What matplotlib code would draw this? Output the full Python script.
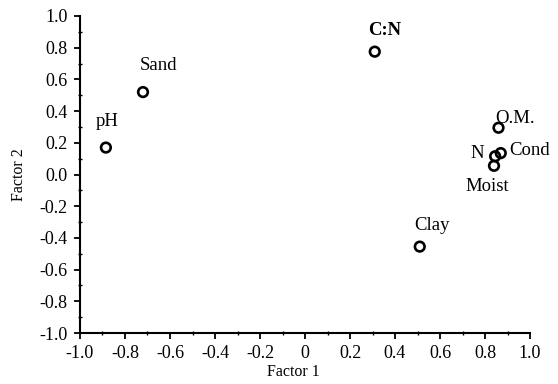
import matplotlib
matplotlib.use("Agg")
import matplotlib.pyplot as plt
from matplotlib.ticker import MultipleLocator

plt.rcParams['font.family'] = ['Liberation Serif', 'DejaVu Serif']

names = ["pH", "Sand", "C:N", "O.M.", "Cond", "N", "Moist", "Clay"]
factor1 = [-0.885, -0.72, 0.31, 0.86, 0.87, 0.845, 0.84, 0.51]
factor2 = [0.17, 0.52, 0.775, 0.295, 0.135, 0.115, 0.055, -0.455]
# label offsets in points (style only)
offsets = {"pH": (1, 19), "Sand": (11, 19), "C:N": (7, 15), "O.M.": (12, 7),
           "Cond": (21, 2), "N": (-13, 2), "Moist": (-5, -15), "Clay": (9, 15)}
bold = {"C:N"}
xticks = [-1.0, -0.8, -0.6, -0.4, -0.2, 0.0, 0.2, 0.4, 0.6, 0.8, 1.0]
xticklabels = ["-1.0", "-0.8", "-0.6", "-0.4", "-0.2", "0", "0.2", "0.4", "0.6", "0.8", "1.0"]
yticks = [-1.0, -0.8, -0.6, -0.4, -0.2, 0.0, 0.2, 0.4, 0.6, 0.8, 1.0]
yticklabels = ["-1.0", "-0.8", "-0.6", "-0.4", "-0.2", "0.0", "0.2", "0.4", "0.6", "0.8", "1.0"]

fig = plt.figure(figsize=(5.58, 3.84), dpi=100)
ax = fig.add_axes([80/558, 1-333/384, 450/558, 317/384])
ax.scatter(factor1, factor2, s=48, facecolors='none', edgecolors='black', linewidths=1.9, zorder=3)
for n, x, y in zip(names, factor1, factor2):
    dx, dy = offsets[n]
    ax.annotate(n, (x, y), xytext=(dx, dy), textcoords='offset points',
                ha='center', va='center', fontsize=13.5,
                fontweight='bold' if n in bold else 'normal')
ax.set_xlim(-1.0, 1.0)
ax.set_ylim(-1.0, 1.0)
ax.set_xticks(xticks)
ax.set_xticklabels(xticklabels, fontsize=13)
ax.set_yticks(yticks)
ax.set_yticklabels(yticklabels, fontsize=13)
ax.xaxis.set_minor_locator(MultipleLocator(0.1))
ax.yaxis.set_minor_locator(MultipleLocator(0.1))
ax.tick_params(which='major', direction='out', length=4, width=1.3)
ax.tick_params(axis='x', which='major', pad=5)
ax.tick_params(axis='y', which='major', pad=5)
ax.tick_params(which='minor', direction='inout', length=3, width=1.0)
for s in ['top', 'right']:
    ax.spines[s].set_visible(False)
for s in ['left', 'bottom']:
    ax.spines[s].set_linewidth(1.5)
ax.set_xlabel("Factor 1", fontsize=11.5)
ax.set_ylabel("Factor 2", fontsize=11.5)
ax.xaxis.set_label_coords((293-80)/450, -(372-333)/317)
ax.yaxis.set_label_coords(-(80-19)/450, 0.5)
ax.xaxis.label.set_va('center')
ax.yaxis.label.set_va('center')
fig.savefig("out.png", dpi=100)
